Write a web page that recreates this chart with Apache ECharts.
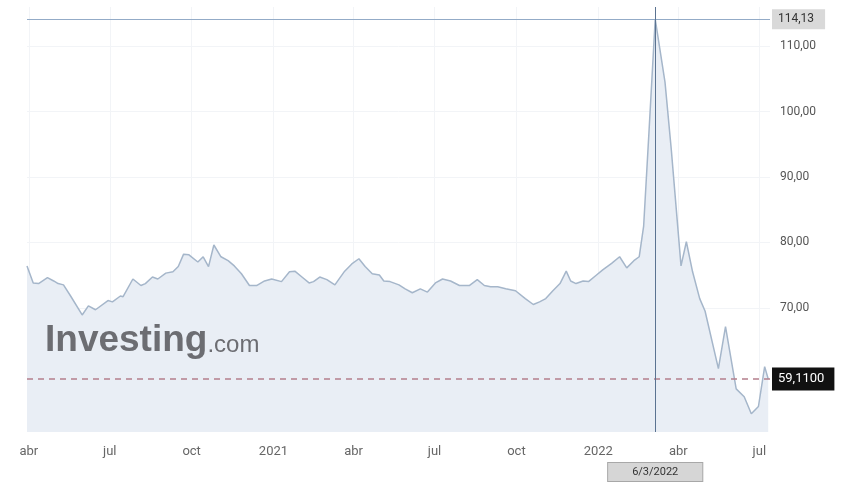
<!DOCTYPE html>
<html>
<head>
<meta charset="utf-8">
<script src="https://cdn.jsdelivr.net/npm/echarts@6/dist/echarts.min.js"></script>
<style>
html,body{margin:0;padding:0;background:#fff;}
#chart{width:848px;height:483px;}
</style>
</head>
<body>
<div id="chart"></div>
<script>
const dates = [
'2020-03-30','2020-04-06','2020-04-12','2020-04-22','2020-04-29','2020-05-04','2020-05-10','2020-05-18','2020-05-31','2020-06-07',
'2020-06-15','2020-06-29','2020-07-04','2020-07-13','2020-07-16','2020-07-27','2020-08-05','2020-08-10','2020-08-18','2020-08-24',
'2020-09-02','2020-09-10','2020-09-16','2020-09-22','2020-09-28','2020-10-08','2020-10-14','2020-10-20','2020-10-26','2020-11-03',
'2020-11-11','2020-11-18','2020-11-26','2020-12-05','2020-12-13','2020-12-22','2020-12-30','2021-01-10','2021-01-19','2021-01-25',
'2021-02-02','2021-02-10','2021-02-15','2021-02-22','2021-03-02','2021-03-11','2021-03-22','2021-03-30','2021-04-07','2021-04-14',
'2021-04-22','2021-04-30','2021-05-05','2021-05-12','2021-05-22','2021-05-29','2021-06-06','2021-06-15','2021-06-23','2021-07-02',
'2021-07-10','2021-07-19','2021-07-29','2021-08-09','2021-08-18','2021-08-26','2021-09-02','2021-09-10','2021-09-19','2021-09-30',
'2021-10-11','2021-10-20','2021-10-27','2021-11-03','2021-11-11','2021-11-19','2021-11-26','2021-12-01','2021-12-07','2021-12-15',
'2021-12-21','2021-12-29','2022-01-06','2022-01-16','2022-01-25','2022-02-02','2022-02-10','2022-02-16','2022-02-21','2022-02-27',
'2022-03-06','2022-03-17','2022-03-24','2022-04-04','2022-04-10','2022-04-17','2022-04-25','2022-05-01','2022-05-16','2022-05-24',
'2022-06-05','2022-06-14','2022-06-22','2022-06-30','2022-07-07','2022-07-11'
];
const values = [
76.4,73.8,73.7,74.6,74.1,73.7,73.5,71.8,68.9,70.3,
69.7,71.1,70.9,71.8,71.7,74.4,73.4,73.7,74.7,74.4,
75.3,75.5,76.3,78.2,78.1,77.0,77.8,76.3,79.6,77.8,
77.2,76.4,75.2,73.4,73.4,74.1,74.4,74.0,75.5,75.6,
74.7,73.8,74.0,74.7,74.3,73.5,75.6,76.7,77.5,76.3,
75.2,75.0,74.1,74.0,73.5,72.9,72.3,72.9,72.4,73.8,
74.4,74.1,73.4,73.4,74.3,73.4,73.2,73.2,72.9,72.6,
71.4,70.5,70.9,71.4,72.6,73.7,75.6,74.1,73.7,74.1,
74.0,74.9,75.8,76.8,77.8,76.1,77.2,77.8,82.5,96.9,
114.13,104.5,94.3,76.4,80.1,75.5,71.4,69.5,60.7,67.1,
57.6,56.4,53.8,54.9,61.0,59.11
];
const xTickDates = ['2020-04-01','2020-07-01','2020-10-01','2021-01-01','2021-04-01','2021-07-01','2021-10-01','2022-01-01','2022-04-01','2022-07-01'];
const xTickLabels = ['abr','jul','oct','2021','abr','jul','oct','2022','abr','jul'];
const yTicks = [70, 80, 90, 100, 110];
const maxValue = 114.13;
const maxLabel = '114,13';
const maxDate = '2022-03-06';
const maxDateLabel = '6/3/2022';
const lastValue = 59.11;
const lastLabel = '59,1100';

const tp = s => Date.UTC(+s.slice(0, 4), +s.slice(5, 7) - 1, +s.slice(8, 10));
const xTickValues = xTickDates.map(tp);
const seriesData = dates.map((d, i) => [tp(d), values[i]]);

const chart = echarts.init(document.getElementById('chart'), null, {renderer: 'canvas'});
const font = 'Roboto, "Liberation Sans", Arial, sans-serif';

chart.setOption({
  animation: false,
  backgroundColor: '#ffffff',
  textStyle: {fontFamily: font},
  grid: {left: 27, right: 78, top: 7, bottom: 51, containLabel: false},
  xAxis: {
    type: 'value',
    min: tp('2020-03-30'),
    max: tp('2022-07-13'),
    axisLine: {show: false},
    axisTick: {show: false, customValues: xTickValues},
    splitLine: {show: true, lineStyle: {color: '#f2f4f7', width: 1}},
    axisLabel: {
      customValues: xTickValues,
      margin: 13,
      color: '#666',
      fontSize: 13,
      fontFamily: font,
      formatter: function (v) {
        const i = xTickValues.indexOf(v);
        return i >= 0 ? xTickLabels[i] : '';
      }
    }
  },
  yAxis: {
    type: 'value',
    position: 'right',
    min: 51,
    max: 116,
    axisLine: {show: false},
    axisTick: {show: false, customValues: yTicks},
    splitLine: {show: true, lineStyle: {color: '#f2f4f7', width: 1}},
    axisLabel: {
      customValues: yTicks,
      margin: 10,
      color: '#555',
      fontSize: 12,
      fontFamily: font,
      formatter: v => v.toFixed(2).replace('.', ',')
    }
  },
  graphic: [{
    type: 'text',
    left: 45,
    top: 322,
    z: 100,
    style: {
      text: '{a|Investing}{b|.com}',
      rich: {
        a: {fontSize: 37, fontWeight: 'bold', fill: '#6c6d72', fontFamily: '"Liberation Sans", Arial, sans-serif'},
        b: {fontSize: 24, fill: '#6c6d72', fontFamily: '"Liberation Sans", Arial, sans-serif', padding: [10, 0, 0, 0]}
      }
    }
  }],
  series: [{
    type: 'line',
    data: seriesData,
    symbol: 'none',
    smooth: false,
    lineStyle: {color: '#a5b6ca', width: 1.5},
    areaStyle: {color: '#e9eef5', opacity: 1},
    markLine: {
      silent: true,
      symbol: ['none', 'none'],
      animation: false,
      data: [
        {
          yAxis: maxValue,
          lineStyle: {color: '#93abc7', width: 1.2, type: 'solid'},
          label: {
            show: true, position: 'end', distance: 2,
            formatter: maxLabel, color: '#333', fontSize: 12, fontFamily: font,
            backgroundColor: '#d9d9d9', padding: [4, 11, 4, 6]
          }
        },
        {
          yAxis: lastValue,
          lineStyle: {color: '#b47f8c', width: 1.5, type: [6, 5]},
          label: {
            show: true, position: 'end', distance: 2,
            formatter: lastLabel, color: '#ffffff', fontSize: 13, fontFamily: font,
            backgroundColor: '#111111', padding: [5, 10, 5, 6]
          }
        },
        {
          xAxis: tp(maxDate),
          lineStyle: {color: '#5b7391', width: 1, type: 'solid'},
          label: {
            show: true, position: 'start', distance: 31,
            formatter: maxDateLabel, color: '#333', fontSize: 11, fontFamily: font,
            backgroundColor: '#d6d6d6', borderColor: '#a8a8a8', borderWidth: 1,
            padding: [4, 24, 3, 24]
          }
        }
      ]
    }
  }]
});
</script>
</body>
</html>
